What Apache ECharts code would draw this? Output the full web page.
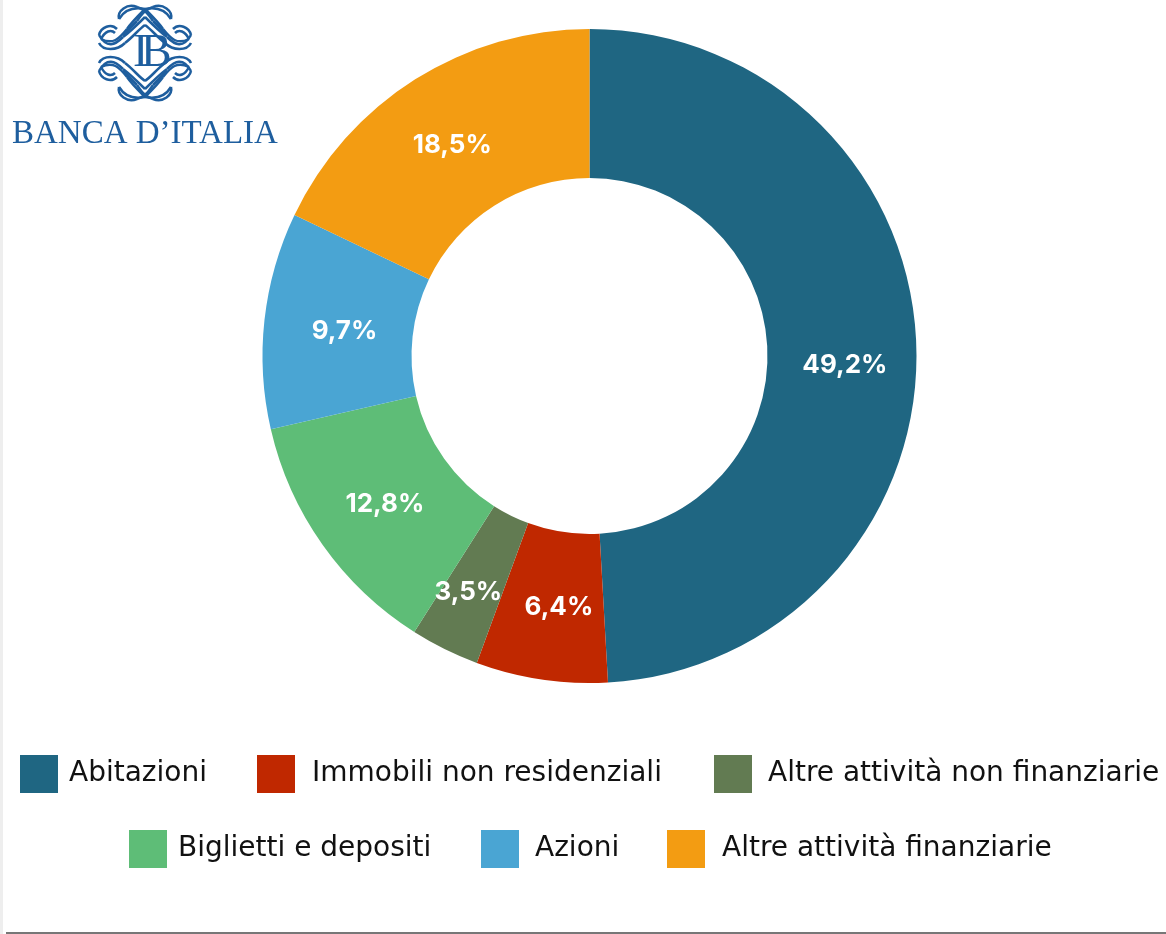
<!DOCTYPE html>
<html><head><meta charset="utf-8">
<style>html,body{margin:0;padding:0;background:#fff}#c{width:1166px;height:934px}</style>
<script src="https://cdn.jsdelivr.net/npm/echarts@6/dist/echarts.min.js"></script>
</head><body><div id="c"></div>
<script>
const categories = ['Abitazioni','Immobili non residenziali','Altre attività non finanziarie','Biglietti e depositi','Azioni','Altre attività finanziarie'];
// Arc sizes as measured on the picture; the printed labels differ slightly from them there.
const arcShares = [49.1,6.5,3.4,12.4,10.7,17.9];
const printedLabels = ['49,2%','6,4%','3,5%','12,8%','9,7%','18,5%'];
const colors = ['#1F6682','#C02800','#627B52','#5EBD77','#4AA5D3','#F39C12'];
const legendSpots = [[20,755],[257,755],[714,755],[129,830],[481,830],[667,830]];
const legendTextGaps = [6,12,11,6,11,12];
const labelOffsets = [[0,16],[7,-2],[-8,7],[4,1],[9,3],[-1,5]];
const blue = '#1E5E9E';
// Decorative logo emblem: one quarter of strokes, mirrored about the centre (145,53)
const emblemQuarter = [
  [0,-44,-10,-46,-20,-44,-26,-34],
  [0,-44,-6,-38,-14,-30,-18,-24],
  [0,-36,-8,-28,-14,-22,-22,-16],
  [0,-28,-6,-24,-12,-16,-20,-10],
  [-18,-24,-26,-14,-32,-8,-44,-14],
  [-22,-16,-30,-8,-38,-4,-46,-18],
  [-20,-10,-28,-2,-42,-2,-46,-10],
  [-46,-18,-44,-26,-34,-30,-28,-24],
  [-44,-14,-40,-22,-34,-24,-30,-20],
  [-26,-34,-28,-42,-18,-50,-8,-46],
  [-8,-46,0,-44,4,-38,8,-32],
  [8,-32,14,-26,18,-22,22,-18]
];
function emblem(){
  const out=[], cx=145, cy=53;
  for(const [sx,sy] of [[1,1],[-1,1],[1,-1],[-1,-1]]){
    for(const q of emblemQuarter){
      out.push({type:'bezierCurve',silent:true,shape:{
        x1:cx+sx*q[0],y1:cy+sy*q[1],cpx1:cx+sx*q[2],cpy1:cy+sy*q[3],
        cpx2:cx+sx*q[4],cpy2:cy+sy*q[5],x2:cx+sx*q[6],y2:cy+sy*q[7]},
        style:{fill:null,stroke:blue,lineWidth:2.5}});
    }
  }
  return out;
}
const chart = echarts.init(document.getElementById('c'),null,{renderer:'canvas'});
chart.setOption({
  backgroundColor:'#fff',
  animation:false,
  color:colors,
  legend:categories.map((name,i)=>({data:[name],left:legendSpots[i][0],top:legendSpots[i][1],padding:0,
    itemWidth:38,itemHeight:38,icon:'rect',selectedMode:false,
    textStyle:{fontFamily:'DejaVu Sans',fontSize:28,color:'#111',padding:[0,0,0,legendTextGaps[i]]}})),
  series:[{
    type:'pie', center:[589.5,356], radius:[178,327], startAngle:90, clockwise:true,
    avoidLabelOverlap:false, silent:true,
    label:{position:'inside', color:'#fff', fontFamily:'Inter', fontWeight:700, fontSize:26,
      formatter:p=>printedLabels[p.dataIndex]},
    labelLine:{show:false},
    itemStyle:{borderWidth:0},
    data:categories.map((name,i)=>({name,value:arcShares[i],label:{offset:labelOffsets[i]}}))
  }],
  graphic:[
    ...emblem(),
    {type:'text',left:12,top:118,silent:true,style:{text:'BANCA D’ITALIA',fontFamily:'Liberation Serif',fontSize:33,fill:blue}},
    {type:'text',left:133,top:31,silent:true,style:{text:'I',fontFamily:'Liberation Serif',fontSize:46,fill:blue}},
    {type:'text',left:141,top:31,silent:true,style:{text:'B',fontFamily:'Liberation Serif',fontSize:46,fill:blue}},
    {type:'rect',silent:true,shape:{x:6,y:932,width:1160,height:2},style:{fill:'#777'}},
    {type:'rect',silent:true,shape:{x:0,y:0,width:3,height:934},style:{fill:'#eee'}}
  ]
});
</script></body></html>
